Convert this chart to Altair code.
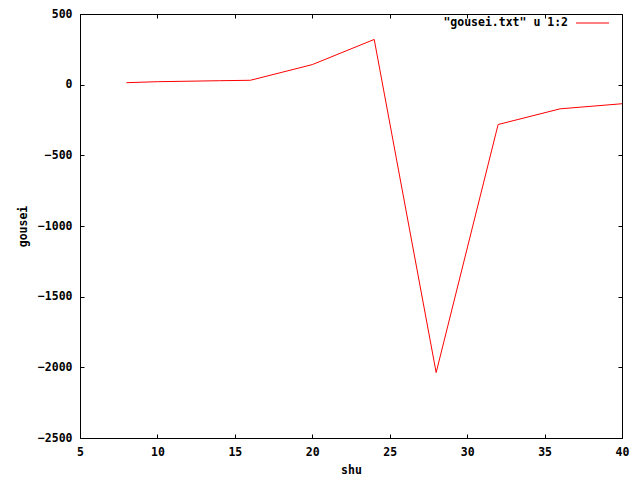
import altair as alt
import pandas as pd

shu = [8, 10, 14, 16, 20, 24, 28, 32, 36, 40]
gousei = [14, 21, 28, 31, 142, 320, -2037, -282, -171, -135]
x_ticks = [5, 10, 15, 20, 25, 30, 35, 40]
y_ticks = [-2500, -2000, -1500, -1000, -500, 0, 500]
legend_label = ['"gousei.txt" u 1:2']

df = pd.DataFrame({"shu": shu, "gousei": gousei})
FONT = "DejaVu Sans Mono"
FS = 11.5

xs = alt.Scale(domain=[5, 40], nice=False, zero=False)
ys = alt.Scale(domain=[-2500, 500], nice=False, zero=False)

main = alt.Chart(df).mark_line(color="#ff0000", strokeWidth=1).encode(
    x=alt.X("shu:Q", scale=xs, axis=alt.Axis(
        orient="bottom", values=x_ticks, offset=-4, tickSize=4, domain=False,
        grid=False, labelPadding=8, labelFont=FONT, labelFontSize=FS,
        labelFontWeight="bold", labelColor="black", tickColor="black",
        format="d",
        title="shu", titleFont=FONT, titleFontSize=FS, titleFontWeight="bold",
        titleY=36, titleBaseline="middle", titleColor="black", labelFlush=False)),
    y=alt.Y("gousei:Q", scale=ys, axis=alt.Axis(
        orient="left", values=y_ticks, offset=-4, tickSize=4, domain=False,
        grid=False, labelPadding=8, labelFont=FONT, labelFontSize=FS,
        labelFontWeight="bold", labelColor="black", tickColor="black",
        format="d",
        title="gousei", titleFont=FONT, titleFontSize=FS, titleFontWeight="bold",
        titleX=-61, titleAngle=270, titleBaseline="middle", titleColor="black",
        labelFlush=False)),
)

mirror = alt.Chart(df).mark_line(opacity=0).encode(
    x=alt.X("shu:Q", scale=xs, axis=alt.Axis(
        orient="top", values=x_ticks, offset=-4, tickSize=4, domain=False,
        grid=False, labels=False, title=None, tickColor="black")),
    y=alt.Y("gousei:Q", scale=ys, axis=alt.Axis(
        orient="right", values=y_ticks, offset=-4, tickSize=4, domain=False,
        grid=False, labels=False, title=None, tickColor="black")),
)

leg_df = pd.DataFrame({"label": legend_label})
leg_text = alt.Chart(leg_df).mark_text(
    align="right", baseline="middle", font=FONT, fontSize=FS,
    fontWeight="bold", color="black").encode(
    x=alt.value(488), y=alt.value(9), text="label:N")
leg_line = alt.Chart(leg_df).mark_rule(color="#ff0000", strokeWidth=1).encode(
    x=alt.value(496), x2=alt.value(529), y=alt.value(9))

chart = alt.layer(main, mirror, leg_text, leg_line).resolve_axis(
    x="independent", y="independent"
).properties(
    width=542, height=424,
    autosize=alt.AutoSizeParams(type="none"),
    padding={"left": 72, "top": 6, "right": 10, "bottom": 42},
    background="white",
).configure_view(stroke="black", strokeWidth=1)

chart.save("out.html", embed_options={"renderer": "svg", "actions": False})
